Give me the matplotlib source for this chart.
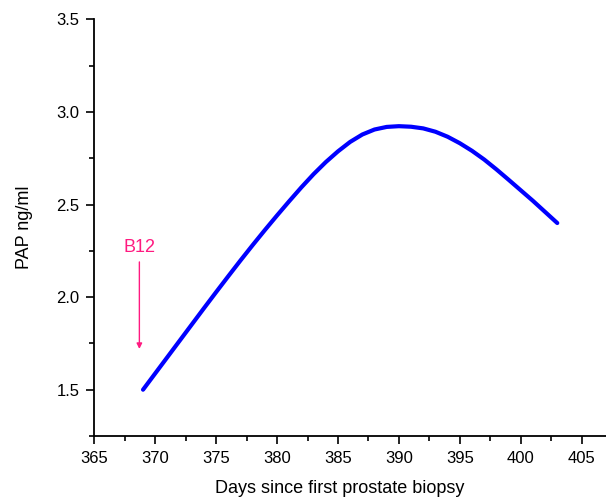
import numpy as np
import matplotlib
matplotlib.use("Agg")
import matplotlib.pyplot as plt
from matplotlib.ticker import MultipleLocator

plt.rcParams['font.family'] = ['Liberation Sans', 'DejaVu Sans']

# values
days = [369, 370, 371, 372, 373, 374, 375, 376, 377, 378, 379, 380, 381, 382,
        383, 384, 385, 386, 387, 388, 389, 390, 391, 392, 393, 394, 395, 396,
        397, 398, 399, 400, 401, 402, 403]
pap = [1.500, 1.588, 1.676, 1.764, 1.852, 1.940, 2.027, 2.113, 2.198, 2.281,
       2.362, 2.441, 2.518, 2.593, 2.664, 2.729, 2.787, 2.838, 2.878, 2.905,
       2.919, 2.923, 2.920, 2.911, 2.893, 2.866, 2.831, 2.790, 2.743, 2.690,
       2.634, 2.577, 2.520, 2.460, 2.400]

marker_label = "B12"
marker_day = 368.7
marker_top = 2.19
marker_tip = 1.72
label_y = 2.27

fig = plt.figure(figsize=(6.06, 4.98), dpi=100)
ax = fig.add_axes([0.1556, 0.1245, 0.8444, 0.8367])

ax.plot(days, pap, color='#0000FF', lw=3, solid_capstyle='round',
        solid_joinstyle='round')

pink = '#FF1A80'
ax.annotate('', xy=(marker_day, marker_tip), xytext=(marker_day, marker_top),
            arrowprops=dict(arrowstyle='-|>', color=pink, lw=1,
                            mutation_scale=8, shrinkA=0, shrinkB=0))
ax.text(marker_day, label_y, marker_label, color=pink, fontsize=13,
        ha='center', va='center')

ax.set_xlim(365, 407)
ax.set_ylim(1.25, 3.5)
ax.xaxis.set_major_locator(MultipleLocator(5))
ax.xaxis.set_minor_locator(MultipleLocator(2.5))
ax.set_yticks([1.5, 2.0, 2.5, 3.0, 3.5])
ax.yaxis.set_minor_locator(MultipleLocator(0.25))

for s in ['top', 'right']:
    ax.spines[s].set_visible(False)
for s in ['left', 'bottom']:
    ax.spines[s].set_linewidth(1.3)

ax.tick_params(which='major', direction='out', length=6, width=1.2,
               labelsize=12, pad=4.5)
ax.tick_params(which='minor', direction='out', length=3.3, width=1.2)

ax.set_xlabel('Days since first prostate biopsy', fontsize=13)
ax.xaxis.set_label_coords(0.48, -0.105)
ax.set_ylabel('PAP ng/ml', fontsize=13, labelpad=17)

fig.savefig('out.png', dpi=100)
